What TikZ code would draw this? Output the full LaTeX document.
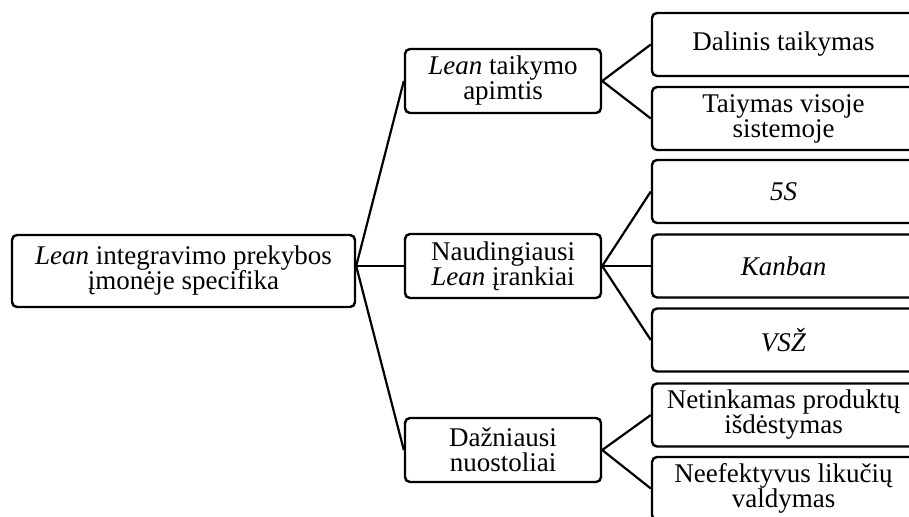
\documentclass[tikz,border=0pt]{standalone}
\usepackage{fontspec}
\setmainfont{Liberation Serif}
\begin{document}
\begin{tikzpicture}[x=1pt,y=-1pt,
  box/.style={draw, line width=2.4pt, rounded corners=5pt, align=center,
    inner sep=0pt, font=\fontsize{27pt}{25pt}\selectfont},
  rootbox/.style={box, minimum width=343pt, minimum height=72pt},
  midbox/.style={box, minimum width=196pt, minimum height=64pt},
  leafbox/.style={box, minimum width=263pt, minimum height=63pt},
  link/.style={line width=2.2pt}]
\useasboundingbox (0,0) rectangle (909,516);
\clip (0,0) rectangle (909,516);

% root
\node[rootbox] (root) at (183.5,271) {\textit{Lean} integravimo prekybos\\įmonėje specifika};

% second level
\node[midbox] (mid1) at (503,81)  {\textit{Lean} taikymo\\apimtis};
\node[midbox] (mid2) at (503,266) {Naudingiausi\\\textit{Lean} įrankiai};
\node[midbox] (mid3) at (503,450) {Dažniausi\\nuostoliai};

% leaves
\node[leafbox] (l1) at (783.5,44.5)  {Dalinis taikymas};
\node[leafbox] (l2) at (783.5,118.5) {Taiymas visoje\\sistemoje};
\node[leafbox] (l3) at (783.5,191.5) {\textit{5S}};
\node[leafbox] (l4) at (783.5,266)   {\textit{Kanban}};
\node[leafbox] (l5) at (783.5,340)   {\textit{VSŽ}};
\node[leafbox] (l6) at (783.5,415)   {Netinkamas produktų\\išdėstymas};
\node[leafbox] (l7) at (783.5,488.5) {Neefektyvus likučių\\valdymas};

% connectors
\coordinate (hub) at (root.east |- mid2.west);
\draw[link] (mid1.west) -- (hub) -- (mid3.west);
\draw[link] (hub) -- (mid2.west);
\draw[link] (l1.west) -- (mid1.east) -- (l2.west);
\draw[link] (l3.west) -- (mid2.east) -- (l5.west);
\draw[link] (mid2.east) -- (l4.west);
\draw[link] (l6.west) -- (mid3.east) -- (l7.west);
\end{tikzpicture}
\end{document}
